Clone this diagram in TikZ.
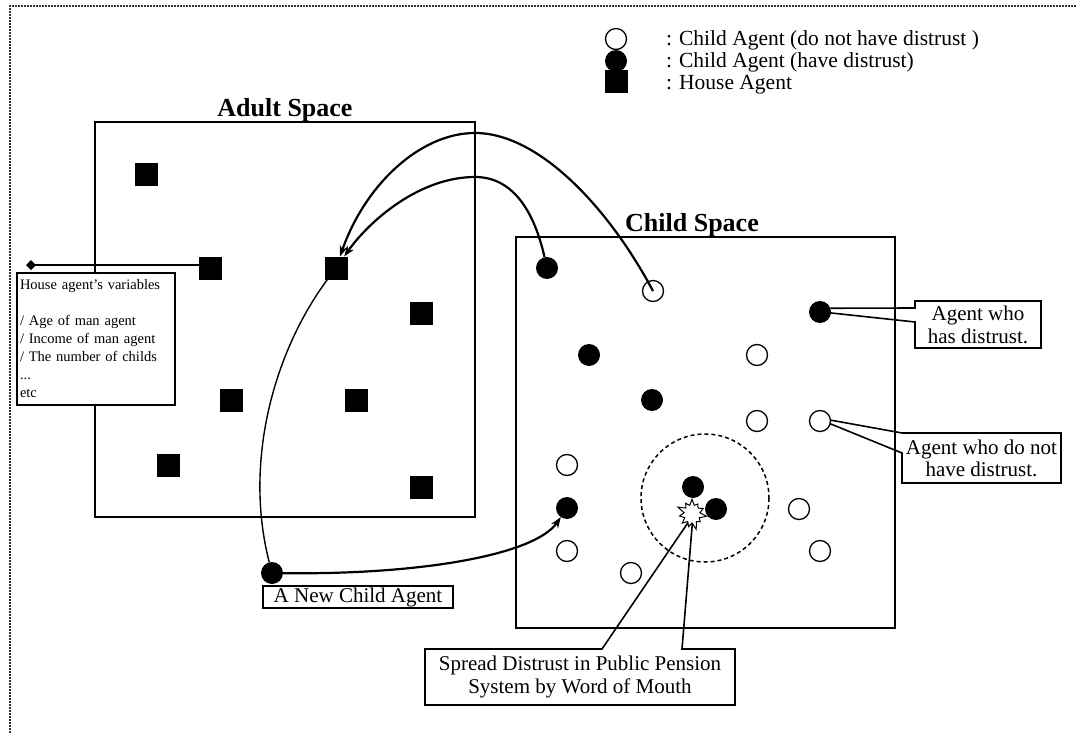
\documentclass[tikz,border=0pt]{standalone}
\usepackage{fontspec}
\setmainfont{Liberation Serif}
\usetikzlibrary{arrows.meta,shapes.geometric,shapes.symbols,calc}
\begin{document}
\begin{tikzpicture}[x=1pt,y=-1pt,
  every node/.style={inner sep=0pt, outer sep=0pt},
  house/.style={rectangle, fill=black, minimum size=23pt},
  dis/.style={circle, fill=black, minimum size=22pt},
  nodis/.style={circle, draw=black, fill=white, line width=1.3pt, minimum size=21pt},
  frame/.style={draw=black, line width=2pt},
  ttl/.style={font=\fontsize{26}{30}\selectfont\bfseries, anchor=base},
  lbl/.style={font=\fontsize{21}{23}\selectfont, align=center},
  arr/.style={line width=2.2pt, -{Stealth[length=11pt,width=8pt]}},
  callout/.style={draw=black, line width=1.6pt, line join=miter},
  dotborder/.style={draw=black!80, line width=1.5pt, dash pattern=on 2pt off 1pt}
]
\useasboundingbox (0,0) rectangle (1077,733);
\draw[dotborder] (10,733) -- (10,6) -- (1077,6);

% legend
\node[house] (lg3) at (616,81.5) {};
\node[dis] (lg2) at (616,61) {};
\node[nodis] (lg1) at (616,39) {};
\node[anchor=base west, font=\fontsize{21.5}{23}\selectfont] (lt1) at (666,46) {: Child Agent (do not have distrust )};
\node[anchor=base west, font=\fontsize{21.5}{23}\selectfont] (lt2) at (666,68) {: Child Agent (have distrust)};
\node[anchor=base west, font=\fontsize{21.5}{23}\selectfont] (lt3) at (666,90) {: House Agent};

% adult space
\node[frame, anchor=north west, minimum width=380pt, minimum height=395pt] (adult) at (95,122) {};
\node[ttl] (adt) at (285,117) {Adult Space};
\node[house] (h1) at (146,175) {};
\node[house] (h2) at (210,268) {};
\node[house] (h3) at (336,268) {};
\node[house] (h4) at (421,313) {};
\node[house] (h5) at (231,400) {};
\node[house] (h6) at (356,400) {};
\node[house] (h7) at (168,465) {};
\node[house] (h8) at (421,487) {};

% house agent's variables
\node[frame, fill=white, anchor=north west, minimum width=158pt, minimum height=132pt,
      text width=152pt, align=left, inner sep=3pt, font=\fontsize{14.5}{18}\selectfont] (hv) at (17,273)
  {House agent's variables\\[18pt]/ Age of man agent\\/ Income of man agent\\/ The number of childs\\...\\etc};
\node[diamond, fill=black, minimum size=10pt] (dm) at (31,265) {};
\draw[line width=2pt] (dm.center) -- (dm -| h2.west);

% child space
\node[frame, anchor=north west, minimum width=379pt, minimum height=391pt] (child) at (516,237) {};
\node[ttl] (cdt) at (692,231) {Child Space};
\draw[line width=1.5pt, dash pattern=on 4pt off 3pt] (705,498) circle[radius=64];

\node[dis] (d1) at (547,268) {};
\node[dis] (d2) at (820,312) {};
\node[dis] (d3) at (589,355) {};
\node[dis] (d4) at (652,400) {};
\node[dis] (d5) at (567,508) {};
\node[dis] (d6) at (693,487) {};
\node[dis] (d7) at (716,509) {};
\node[nodis] (o1) at (653,291) {};
\node[nodis] (o2) at (757,355) {};
\node[nodis] (o3) at (757,421) {};
\node[nodis] (o4) at (820,421) {};
\node[nodis] (o5) at (567,465) {};
\node[nodis] (o6) at (567,551) {};
\node[nodis] (o7) at (631,573) {};
\node[nodis] (o8) at (799,509) {};
\node[nodis] (o9) at (820,551) {};

\node[starburst, starburst points=11, starburst point height=8pt, draw, fill=white,
      line width=1pt, minimum width=32pt, minimum height=34pt] (star) at (692,514) {};

% new child
\node[dis] (nc) at (272,573) {};
\node[draw, line width=1.6pt, minimum width=190pt, minimum height=22pt, lbl] (ncb) at (358,597) {A New Child Agent};

% connectors
\draw[arr] (o1.center) .. controls (610,210) and (540,133) .. (475,133)
           .. controls (420,133) and (365,185) .. (h3);
\draw[arr] (d1) .. controls (535,215) and (515,177) .. (475,177)
           .. controls (420,177) and (370,220) .. (h3);
\draw[line width=1.4pt] (h3) .. controls (275,350) and (243,460) .. (nc);
\draw[arr] (nc) .. controls (420,575) and (535,555) .. (d5);

% callouts
\node[lbl, minimum width=126pt, minimum height=47pt] (ahd) at (978,324.5) {Agent who\\has distrust.};
\draw[callout] (d2.20) -- ($(ahd.north west)+(0,7)$) -- (ahd.north west) -- (ahd.north east)
   -- (ahd.south east) -- (ahd.south west) -- ($(ahd.north west)+(0,21)$) -- (d2.-5);

\node[lbl, font=\fontsize{21}{22}\selectfont, minimum width=159pt, minimum height=50pt] (adn) at (981.5,458) {Agent who do not\\have distrust.};
\draw[callout] (o4.5) -- (adn.north west) -- (adn.north east) -- (adn.south east)
   -- (adn.south west) -- ($(adn.north west)+(0,20)$) -- (o4.-15);

\node[lbl, minimum width=310pt, minimum height=56pt] (sb) at (580,677) {Spread Distrust in Public Pension\\System by Word of Mouth};
\coordinate (sp1) at ($(sb.north west)+(177,0)$);
\coordinate (sp2) at ($(sb.north west)+(257,0)$);
\draw[callout] (star.-115) -- (sp1) -- (sb.north west) -- (sb.south west) -- (sb.south east)
   -- (sb.north east) -- (sp2) -- (star.-88);
\end{tikzpicture}
\end{document}
